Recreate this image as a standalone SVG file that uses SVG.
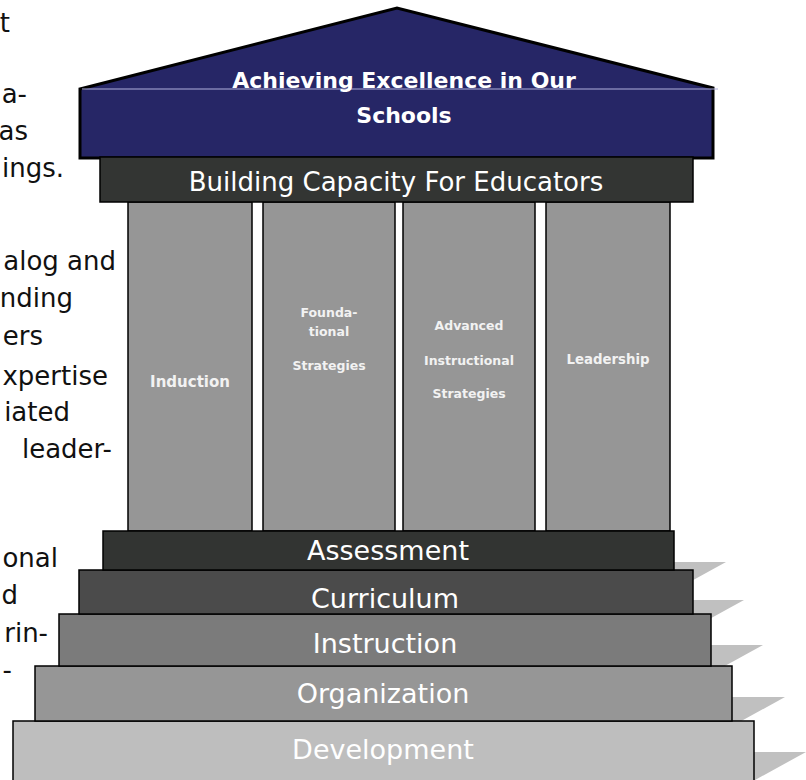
<svg xmlns="http://www.w3.org/2000/svg" width="806" height="780" viewBox="0 0 806 780">
  <style>
    .side { font-family: "DejaVu Sans", "Liberation Sans", sans-serif; font-size: 26px; fill: #111111; }
    .lbl { font-family: "DejaVu Sans", "Liberation Sans", sans-serif; fill: #ffffff; text-anchor: middle; }
    .col { fill: #969696; stroke: #000000; stroke-width: 1.5; }
    .colt { font-family: "DejaVu Sans", "Liberation Sans", sans-serif; font-weight: bold; fill: #f2f2f2; text-anchor: middle; }
    .step { stroke: #000000; stroke-width: 1.5; }
    .steptxt { font-family: "DejaVu Sans", "Liberation Sans", sans-serif; font-size: 27px; fill: #ffffff; text-anchor: middle; }
    .shadow { fill: #c0c0c0; }
  </style>

  <g id="side-text" text-anchor="end">
    <text class="side" x="10" y="32">t</text>
    <text class="side" x="27" y="103">a-</text>
    <text class="side" x="28" y="140">as</text>
    <text class="side" x="64" y="177">ings.</text>
    <text class="side" x="116" y="270">alog and</text>
    <text class="side" x="73" y="307">nding</text>
    <text class="side" x="43" y="345">ers</text>
    <text class="side" x="108" y="385">xpertise</text>
    <text class="side" x="70" y="421">iated</text>
    <text class="side" x="112" y="458">leader-</text>
    <text class="side" x="58" y="567">onal</text>
    <text class="side" x="18" y="604">d</text>
    <text class="side" x="48" y="642">rin-</text>
    <text class="side" x="12" y="679">-</text>
  </g>

  <g id="shadows">
    <polygon class="shadow" points="664,562 726,562 666,595 664,595"/>
    <polygon class="shadow" points="683,600 744,600 684,633 683,633"/>
    <polygon class="shadow" points="701,645 763,645 703,678 701,678"/>
    <polygon class="shadow" points="722,697 785,697 725,730 722,730"/>
    <polygon class="shadow" points="744,752 806,752 746,785 744,785"/>
  </g>

  <g id="col-induction">
    <rect class="col" x="128" y="202" width="124" height="329"/>
    <text class="colt" x="190" y="387" font-size="15">Induction</text>
  </g>
  <g id="col-foundational">
    <rect class="col" x="263" y="202" width="132" height="329"/>
    <text class="colt" x="329" y="317" font-size="12.5">Founda-</text>
    <text class="colt" x="329" y="336" font-size="12.5">tional</text>
    <text class="colt" x="329" y="370" font-size="12.5">Strategies</text>
  </g>
  <g id="col-advanced">
    <rect class="col" x="403" y="202" width="132" height="329"/>
    <text class="colt" x="469" y="330" font-size="12.5">Advanced</text>
    <text class="colt" x="469" y="365" font-size="12.5">Instructional</text>
    <text class="colt" x="469" y="398" font-size="12.5">Strategies</text>
  </g>
  <g id="col-leadership">
    <rect class="col" x="546" y="202" width="124" height="329"/>
    <text class="colt" x="608" y="364" font-size="13.3">Leadership</text>
  </g>

  <g id="roof">
    <polygon points="80,89 397,8 713,88 713,158 80,158" fill="#262666" stroke="#000000" stroke-width="3" stroke-linejoin="miter"/>
    <line x1="82" y1="89" x2="718" y2="89" stroke="#b0b0dc" stroke-width="1"/>
    <text class="lbl" x="404" y="88" font-size="22" font-weight="bold">Achieving Excellence in Our</text>
    <text class="lbl" x="404" y="123" font-size="22" font-weight="bold">Schools</text>
  </g>

  <g id="band-capacity">
    <rect x="100" y="157" width="593" height="45" fill="#333533" stroke="#000000" stroke-width="1.5"/>
    <text class="lbl" x="396" y="191" font-size="26">Building Capacity For Educators</text>
  </g>

  <g id="step-development">
    <rect class="step" x="13" y="721" width="741" height="70" fill="#bebebe"/>
    <text class="steptxt" x="383" y="759" font-size="28">Development</text>
  </g>
  <g id="step-organization">
    <rect class="step" x="35" y="666" width="697" height="55" fill="#969696"/>
    <text class="steptxt" x="383" y="703" font-size="28">Organization</text>
  </g>
  <g id="step-instruction">
    <rect class="step" x="59" y="614" width="652" height="52" fill="#7b7b7b"/>
    <text class="steptxt" x="385" y="653" font-size="28">Instruction</text>
  </g>
  <g id="step-curriculum">
    <rect class="step" x="79" y="570" width="614" height="44" fill="#4b4b4b"/>
    <text class="steptxt" x="385" y="608" font-size="28">Curriculum</text>
  </g>
  <g id="step-assessment">
    <rect class="step" x="103" y="531" width="571" height="39" fill="#323432"/>
    <text class="steptxt" x="388" y="560">Assessment</text>
  </g>
</svg>
